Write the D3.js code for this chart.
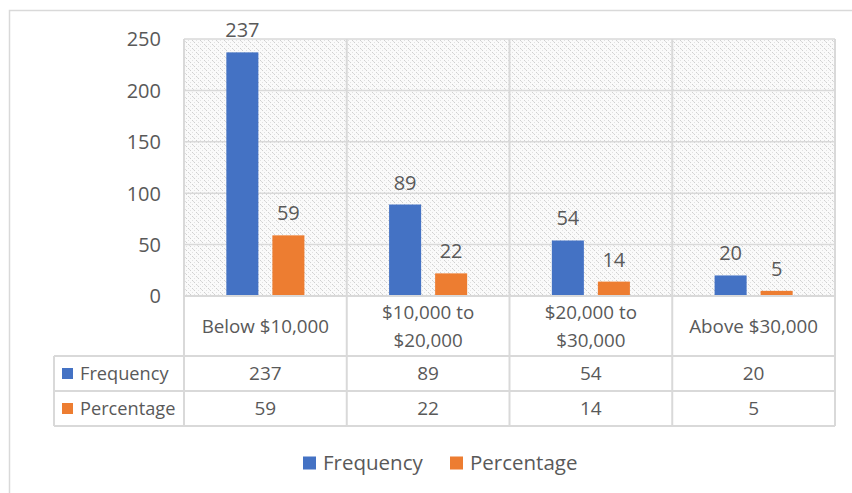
<!DOCTYPE html>
<html>
<head>
<meta charset="utf-8">
<script src="https://cdn.jsdelivr.net/npm/d3@7"></script>
<style>
  html, body { margin: 0; padding: 0; background: #fff; }
  svg { display: block; }
  text { font-family: "Open Sans", "Noto Sans", sans-serif; fill: #595959; }
</style>
</head>
<body>
<svg id="chart" width="852" height="493"></svg>
<script>
// Income brackets and their counts / shares
const categories = [["Below $10,000"], ["$10,000 to", "$20,000"], ["$20,000 to", "$30,000"], ["Above $30,000"]];
const seriesNames = ["Frequency", "Percentage"];
const frequency = [237, 89, 54, 20];
const percentage = [59, 22, 14, 5];
const yTicks = [0, 50, 100, 150, 200, 250];
const colors = ["#4472c4", "#ed7d31"];

const series = [frequency, percentage];
const svg = d3.select("#chart");

const plot = { left: 184, right: 835, top: 39, bottom: 296 };
const rows = { cat: 356, freq: 391, pct: 426, left: 54 };
const gridColor = "#d9d9d9";

// Hatched plot background (dotted downward diagonals)
const defs = svg.append("defs");
const pat = defs.append("pattern")
  .attr("id", "hatch").attr("patternUnits", "userSpaceOnUse")
  .attr("width", 8).attr("height", 8);
pat.append("rect").attr("width", 8).attr("height", 8).attr("fill", "#fafafa");
[[0,0,"#cfcfcf"],[1,1,"#dcdcdc"],[2,2,"#cfcfcf"],[4,4,"#cfcfcf"],[5,5,"#dcdcdc"],[6,6,"#cfcfcf"],
 [4,0,"#e2e2e2"],[6,2,"#e2e2e2"],[0,4,"#e2e2e2"],[2,6,"#e2e2e2"]].forEach(([x, y, c]) => {
  pat.append("rect").attr("x", x).attr("y", y).attr("width", 1).attr("height", 1).attr("fill", c);
});

// Outer chart frame
svg.append("rect").attr("x", 9.5).attr("y", 10.5).attr("width", 900).attr("height", 600)
  .attr("fill", "none").attr("stroke", gridColor).attr("stroke-width", 1.5);

const x = d3.scaleBand().domain(d3.range(categories.length)).range([plot.left, plot.right]);
const xs = d3.scaleBand().domain(seriesNames).range([0, x.bandwidth()])
  .paddingInner(0.304).paddingOuter(0.92);
const y = d3.scaleLinear().domain([0, 250]).range([plot.bottom, plot.top]);

svg.append("rect").attr("x", plot.left).attr("y", plot.top)
  .attr("width", plot.right - plot.left).attr("height", plot.bottom - plot.top)
  .attr("fill", "url(#hatch)");

// Horizontal gridlines
svg.append("g").selectAll("line").data(yTicks).join("line")
  .attr("x1", plot.left).attr("x2", plot.right)
  .attr("y1", d => y(d)).attr("y2", d => y(d))
  .attr("stroke", gridColor).attr("stroke-width", 1.5);

// Y axis labels
const yAxis = d3.axisLeft(y).tickValues(yTicks).tickSize(0).tickPadding(0);
const ya = svg.append("g").attr("transform", `translate(161,0)`).call(yAxis);
ya.select(".domain").remove();
ya.selectAll("text").attr("font-size", 20).style("font-family", '"Open Sans", sans-serif')
  .attr("fill", "#595959").attr("dy", "0.34em");

// Bars with value labels
const groups = svg.append("g").selectAll("g").data(categories).join("g")
  .attr("transform", (d, i) => `translate(${x(i)},0)`);
seriesNames.forEach((name, s) => {
  groups.append("rect")
    .attr("x", xs(name)).attr("width", xs.bandwidth())
    .attr("y", (d, i) => y(series[s][i]))
    .attr("height", (d, i) => y(0) - y(series[s][i]))
    .attr("fill", colors[s]);
  groups.append("text")
    .attr("x", xs(name) + xs.bandwidth() / 2)
    .attr("y", (d, i) => y(series[s][i]) - 15)
    .attr("text-anchor", "middle").attr("font-size", 20)
    .text((d, i) => series[s][i]);
});

// Data table grid: vertical column lines
const colEdges = d3.range(categories.length + 1).map(i => i < categories.length ? x(i) : plot.right);
svg.append("g").selectAll("line").data(colEdges).join("line")
  .attr("x1", d => d).attr("x2", d => d)
  .attr("y1", plot.top).attr("y2", rows.pct)
  .attr("stroke", gridColor).attr("stroke-width", 2);
// horizontal table lines
[plot.bottom, rows.cat, rows.freq, rows.pct].forEach((yy, k) => {
  svg.append("line")
    .attr("x1", k === 0 ? plot.left : rows.left).attr("x2", plot.right)
    .attr("y1", yy).attr("y2", yy)
    .attr("stroke", gridColor).attr("stroke-width", 2);
});
svg.append("line").attr("x1", rows.left).attr("x2", rows.left)
  .attr("y1", rows.cat).attr("y2", rows.pct)
  .attr("stroke", gridColor).attr("stroke-width", 2);

// Category labels
const catMid = (plot.bottom + rows.cat) / 2;
categories.forEach((lines, i) => {
  const t = svg.append("text").attr("text-anchor", "middle").attr("font-size", 18.8)
    .attr("x", x(i) + x.bandwidth() / 2);
  lines.forEach((ln, j) => {
    t.append("tspan").attr("x", x(i) + x.bandwidth() / 2)
      .attr("y", catMid + (j - (lines.length - 1) / 2) * 28)
      .attr("dy", "0.35em").text(ln);
  });
});

// Table rows
const rowMids = [(rows.cat + rows.freq) / 2, (rows.freq + rows.pct) / 2];
seriesNames.forEach((name, s) => {
  svg.append("rect").attr("x", 62).attr("y", rowMids[s] - 5.5).attr("width", 11).attr("height", 11)
    .attr("fill", colors[s]);
  svg.append("text").attr("x", 80).attr("y", rowMids[s]).attr("dy", "0.35em")
    .attr("font-size", 18.2).text(name);
  series[s].forEach((v, i) => {
    svg.append("text").attr("x", x(i) + x.bandwidth() / 2).attr("y", rowMids[s]).attr("dy", "0.35em")
      .attr("text-anchor", "middle").attr("font-size", 19).text(v);
  });
});

// Legend
const legend = svg.append("g").attr("transform", "translate(0,463)");
const legendX = [303, 450];
seriesNames.forEach((name, s) => {
  legend.append("rect").attr("x", legendX[s]).attr("y", -6.5).attr("width", 13).attr("height", 13)
    .attr("fill", colors[s]);
  legend.append("text").attr("x", legendX[s] + 20).attr("y", 0).attr("dy", "0.35em")
    .attr("font-size", 20.5).text(name);
});
</script>
</body>
</html>
